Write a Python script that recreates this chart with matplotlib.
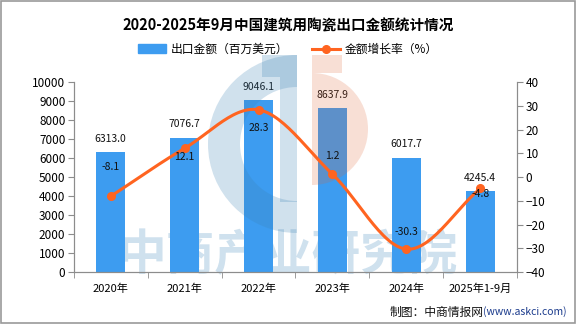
import matplotlib
matplotlib.use("Agg")
import matplotlib.pyplot as plt
from matplotlib.patches import Patch, Wedge, Rectangle
from matplotlib.lines import Line2D
import numpy as np

plt.rcParams['font.family'] = ['Noto Sans CJK SC', 'DejaVu Sans']

years = ["2020年", "2021年", "2022年", "2023年", "2024年", "2025年1-9月"]
export_value = [6313.0, 7076.7, 9046.1, 8637.9, 6017.7, 4245.4]
growth_rate = [-8.1, 12.1, 28.3, 1.2, -30.3, -4.8]

bar_color = "#3d9cf0"
line_color = "#ff6420"
axis_color = "#8c8c8c"

# vertical offsets (points) of the growth labels from their markers
growth_label_dy = [21, -6, -13, 13, 12, -4]


def smooth_curve(xs, ys, n=30):
    # catmull-rom pass through the data points, only for drawing the line
    xs = np.asarray(xs, dtype=float)
    ys = np.asarray(ys, dtype=float)
    px = np.concatenate([[2 * xs[0] - xs[1]], xs, [2 * xs[-1] - xs[-2]]])
    py = np.concatenate([[2 * ys[0] - ys[1]], ys, [2 * ys[-1] - ys[-2]]])
    outx, outy = [], []
    t = np.linspace(0, 1, n)
    for i in range(1, len(px) - 2):
        for arr, out in ((px, outx), (py, outy)):
            p0, p1, p2, p3 = arr[i - 1], arr[i], arr[i + 1], arr[i + 2]
            out.extend(0.5 * (2 * p1 + (-p0 + p2) * t
                              + (2 * p0 - 5 * p1 + 4 * p2 - p3) * t ** 2
                              + (-p0 + 3 * p1 - 3 * p2 + p3) * t ** 3))
    return np.array(outx), np.array(outy)


fig = plt.figure(figsize=(5.76, 3.24), dpi=100)
ax = fig.add_axes([0.128, 0.160, 0.770, 0.587])
ax2 = ax.twinx()
ax.set_zorder(1)
ax2.set_zorder(3)

x = np.arange(len(years))

# watermark text behind the bars
fig.text(0.499, 0.21, "中商产业研究院", fontsize=35, color="#cfe1ee",
         ha="center", va="center", zorder=0, fontweight="bold")

# logo overlay (pixel coordinates), between bars and line
logo = fig.add_axes([0, 0, 1, 1], zorder=2)
logo.set_xlim(0, 576)
logo.set_ylim(324, 0)
logo.axis("off")
logo.add_patch(Wedge((297, 144), 89, 90, 270, width=32, color="#3c82b4",
                     alpha=0.24, lw=0))
logo.add_patch(Rectangle((262, 55), 35, 22, color="#3c82b4", alpha=0.24, lw=0))
logo.add_patch(Rectangle((280, 77), 17, 125, color="#3c82b4", alpha=0.24, lw=0))
logo.add_patch(Wedge((312, 129), 56, -90, 90, color="#e06030", alpha=0.2,
                     lw=0))
logo.add_patch(Rectangle((312, 55), 30, 18, color="#e06030", alpha=0.2, lw=0))

ax.bar(x, export_value, width=0.39, color=bar_color, zorder=2)
for xi, v in zip(x, export_value):
    ax.annotate(f"{v:.1f}", (xi, v), xytext=(0, 6), textcoords="offset points",
                ha="center", va="bottom", fontsize=7.5, color="#111111")

sx, sy = smooth_curve(x, growth_rate)
ax2.plot(sx, sy, color=line_color, lw=2.2, zorder=3)
ax2.plot(x, growth_rate, "o", color=line_color, ms=5.5, zorder=4)
for xi, g, dy in zip(x, growth_rate, growth_label_dy):
    ax2.annotate(f"{g}", (xi, g), xytext=(0, dy), textcoords="offset points",
                 ha="center", va="center", fontsize=7.5, color="#111111",
                 zorder=5)

ax.set_xlim(-0.5, len(years) - 0.5)
ax.set_ylim(0, 10000)
ax.set_yticks(np.arange(0, 10001, 1000))
ax2.set_ylim(-40, 40)
ax2.set_yticks(np.arange(-40, 41, 10))

ax.set_xticks(x)
ax.set_xticklabels(years, fontsize=8)
ax.set_xticks(np.arange(-0.5, len(years), 1), minor=True)
ax.tick_params(axis="x", which="major", length=0, pad=8)
ax.tick_params(axis="x", which="minor", length=4, color=axis_color)
ax.tick_params(axis="y", labelsize=8.5, length=4, color=axis_color, pad=2)
ax2.tick_params(axis="y", labelsize=8.5, length=4, color=axis_color, pad=2)

for a in (ax, ax2):
    a.spines["top"].set_visible(False)
    for s in ("left", "right", "bottom"):
        a.spines[s].set_color(axis_color)
    a.patch.set_visible(False)

fig.text(0.5, 0.922, "2020-2025年9月中国建筑用陶瓷出口金额统计情况",
         ha="center", va="center", fontsize=10.5, fontweight="bold")

handles = [Patch(color=bar_color),
           Line2D([0], [0], color=line_color, lw=2.2, marker="o", ms=5.5)]
fig.legend(handles, ["出口金额（百万美元）", "金额增长率（%）"],
           loc="center", bbox_to_anchor=(0.5, 0.848), ncol=2, frameon=False,
           fontsize=8.5, handlelength=2.4, handleheight=0.7, columnspacing=2.0,
           handletextpad=0.4)

fig.text(0.839, 0.037, "制图：中商情报网", ha="right", va="center",
         fontsize=8.5, color="#111111")
fig.text(0.983, 0.037, "(www.askci.com)", ha="right", va="center",
         fontsize=7.5, color="#1a3a8c")

fig.patches.append(Rectangle((0.001, 0.002), 0.997, 0.995, fill=False,
                             edgecolor="#999999", lw=1.2,
                             transform=fig.transFigure, figure=fig))

fig.savefig("out.png", dpi=100)
